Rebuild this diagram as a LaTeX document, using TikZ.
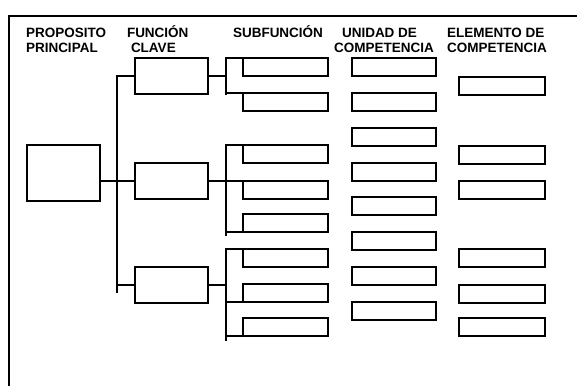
\documentclass[tikz,border=0pt]{standalone}
\usepackage{fontspec}
\setmainfont{Liberation Sans}
\usepackage{tikz}
\usetikzlibrary{positioning}
\tikzstyle{base}=[x=1pt, y=-1pt, line width=1.4pt, inner sep=0pt, outer sep=0pt]
\tikzstyle{caja}=[draw, black, anchor=north west]
\tikzstyle{pri}=[caja, minimum width=73pt, minimum height=56pt]
\tikzstyle{fun}=[caja, minimum width=73pt, minimum height=36pt]
\tikzstyle{sub}=[caja, minimum width=85pt, minimum height=18pt]
\tikzstyle{uni}=[caja, minimum width=84pt, minimum height=18pt]
\tikzstyle{ele}=[caja, minimum width=86pt, minimum height=18pt]
\tikzstyle{titulo}=[anchor=north west, align=left, font=\bfseries\fontsize{13.5}{15}\selectfont]
\newcommand*{\alto}{\rule{0pt}{13pt}}

\begin{document}
\begin{tikzpicture}[base]
    \path [use as bounding box] (0,0) rectangle (577,386);
    \draw (9,386) -- (9,16) -- (577,16);
        \node [titulo] (tpp) at (26,24) {\alto PROPOSITO\\PRINCIPAL};
        \node [titulo] (tfc) at (127,24) {\alto FUNCIÓN\\\hspace*{4pt}CLAVE};
        \node [titulo] (tsf) at (233,24) {\alto SUBFUNCIÓN};
        \node [titulo] (tuc) at (334,24) {\alto\hspace*{8pt}UNIDAD DE\\COMPETENCIA};
        \node [titulo] (tec) at (447,24) {\alto ELEMENTO DE\\COMPETENCIA};
        \node [pri] (pp) at (27,145) {};
        \node [fun] (f1) at (135,58) {};
        \node [fun] (f2) at (135,163) {};
        \node [fun] (f3) at (135,267) {};
        \node [sub] (s1) at (243,58) {};
        \node [sub] (s2) at (243,93) {};
        \node [sub] (s3) at (243,145) {};
        \node [sub] (s4) at (243,181) {};
        \node [sub] (s5) at (243,214) {};
        \node [sub] (s6) at (243,249) {};
        \node [sub] (s7) at (243,284) {};
        \node [sub] (s8) at (243,318) {};
        \node [uni] (u1) at (352,58) {};
        \node [uni] (u2) at (352,93) {};
        \node [uni] (u3) at (352,128) {};
        \node [uni] (u4) at (352,163) {};
        \node [uni] (u5) at (352,197) {};
        \node [uni] (u6) at (352,232) {};
        \node [uni] (u7) at (352,267) {};
        \node [uni] (u8) at (352,302) {};
        \node [ele] (e1) at (459,77) {};
        \node [ele] (e2) at (459,146) {};
        \node [ele] (e3) at (459,181) {};
        \node [ele] (e4) at (459,249) {};
        \node [ele] (e5) at (459,285) {};
        \node [ele] (e6) at (459,318) {};
        \coordinate (pbar) at (117,0);
        \coordinate (sbar) at (226,0);
        \draw (pp.east |- f2.west) -- (f2.west);
        \draw (f1.west) -- (f1.west -| pbar) -- (f3.west -| pbar) -- ++(0,8);
        \draw (f3.west) -- (f3.west -| pbar);
        \draw (f1.east) -- (f1.east -| sbar);
        \draw (s1.north west) -- (s1.north west -| sbar) -- (s2.north west -| sbar) -- ++(0,2);
        \draw (s2.north west) -- (s2.north west -| sbar);
        \draw (f2.east) -- (s4.north west);
        \draw (s3.north west) -- (s3.north west -| sbar) -- (s5.south west -| sbar) -- ++(0,4);
        \draw (s5.south west) -- (s5.south west -| sbar);
        \draw (f3.east) -- (f3.east -| sbar);
        \draw (s6.north west) -- (s6.north west -| sbar) -- (s8.south west -| sbar) -- ++(0,5);
        \draw (s7.south west) -- (s7.south west -| sbar);
        \draw (s8.south west) -- (s8.south west -| sbar);
    \end{tikzpicture}
\end{document}
